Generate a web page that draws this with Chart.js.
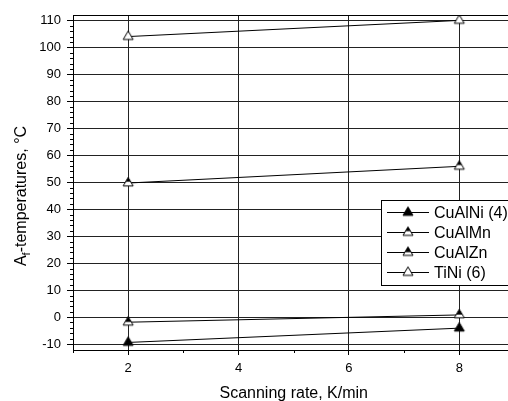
<!DOCTYPE html>
<html>
<head>
<meta charset="UTF-8">
<title>Af temperatures</title>
<script src="https://cdn.jsdelivr.net/npm/chart.js"></script>
<style>
    body { margin: 0; overflow: hidden; background: #fff; }
    canvas { display: block; }
</style>
</head>
<body>
<canvas id="grafico" width="530" height="401"></canvas>

<script>
    // dados
    const rates = [2, 8];
    const cuAlNi = [-9.4, -4.1];
    const cuAlMn = [49.7, 55.9];
    const cuAlZn = [-1.9, 0.8];
    const tiNi = [104.0, 110.0];

    const seriesNames = ['CuAlNi (4)', 'CuAlMn', 'CuAlZn', 'TiNi (6)'];
    const xTicks = [2, 4, 6, 8];
    const yTicks = [-10, 0, 10, 20, 30, 40, 50, 60, 70, 80, 90, 100, 110];
    const xMinor = [1, 3, 5, 7];
    const yMinor = [-8, -6, -4, -2, 2, 4, 6, 8, 12, 14, 16, 18, 22, 24, 26, 28, 32, 34, 36, 38,
        42, 44, 46, 48, 52, 54, 56, 58, 62, 64, 66, 68, 72, 74, 76, 78, 82, 84, 86, 88,
        92, 94, 96, 98, 102, 104, 106, 108];

    const fonte = 'Arial, "Liberation Sans", sans-serif';

    // triangulo desenhado num canvas pequeno (centroide no centro)
    function triangulo(parteCheia) {
        let c = document.createElement('canvas');
        c.width = 14; c.height = 14;
        let ctx = c.getContext('2d');
        let topo = 1.4, base = 9.9;
        ctx.beginPath();
        ctx.moveTo(7, topo);
        ctx.lineTo(12, base);
        ctx.lineTo(2, base);
        ctx.closePath();
        ctx.fillStyle = '#fff';
        ctx.fill();
        if (parteCheia > 0) {
            ctx.save();
            ctx.clip();
            ctx.fillStyle = '#000';
            ctx.fillRect(0, 0, 14, topo + parteCheia * (base - topo));
            ctx.restore();
        }
        ctx.lineWidth = 1;
        ctx.strokeStyle = '#000';
        ctx.stroke();
        return c;
    }

    const marcadores = [triangulo(1), triangulo(0.5), triangulo(0.62), triangulo(0)];
    const valores = [cuAlNi, cuAlMn, cuAlZn, tiNi];

    let datasets = [];
    for (let i = 0; i < valores.length; i++) {
        datasets.push({
            label: seriesNames[i],
            data: rates.map((r, k) => ({ x: r, y: valores[i][k] })),
            borderColor: '#000',
            borderWidth: 1,
            pointStyle: marcadores[i],
            pointRadius: 6,
            tension: 0
        });
    }

    // eixos extras, ticks menores, titulos e legenda
    const extras = {
        id: 'extras',
        afterDatasetsDraw(chart) {
            const ctx = chart.ctx;
            const a = chart.chartArea;
            const x = chart.scales.x, y = chart.scales.y;
            ctx.save();
            ctx.strokeStyle = '#000';
            ctx.lineWidth = 1;

            // borda de cima
            ctx.beginPath();
            ctx.moveTo(a.left, Math.round(a.top) + 0.5);
            ctx.lineTo(a.right, Math.round(a.top) + 0.5);
            ctx.stroke();

            // ticks menores
            ctx.beginPath();
            xMinor.forEach(v => {
                let px = Math.round(x.getPixelForValue(v)) + 0.5;
                ctx.moveTo(px, a.bottom);
                ctx.lineTo(px, a.bottom + 3);
            });
            yMinor.forEach(v => {
                let py = Math.round(y.getPixelForValue(v)) + 0.5;
                ctx.moveTo(a.left - 3, py);
                ctx.lineTo(a.left, py);
            });
            ctx.stroke();

            // titulo eixo x
            ctx.fillStyle = '#000';
            ctx.font = '16px ' + fonte;
            ctx.textAlign = 'center';
            ctx.textBaseline = 'alphabetic';
            ctx.fillText('Scanning rate, K/min', (a.left + a.right) / 2, 398);

            // titulo eixo y com subscrito
            ctx.save();
            ctx.translate(26, 196);
            ctx.rotate(-Math.PI / 2);
            ctx.textAlign = 'left';
            ctx.font = '16px ' + fonte;
            let wA = ctx.measureText('A').width;
            let resto = '-temperatures, °C';
            let wR = ctx.measureText(resto).width;
            ctx.font = '11px ' + fonte;
            let wF = ctx.measureText('f').width;
            let x0 = -(wA + wF + wR) / 2;
            ctx.font = '16px ' + fonte;
            ctx.fillText('A', x0, 0);
            ctx.font = '11px ' + fonte;
            ctx.fillText('f', x0 + wA, 4);
            ctx.font = '16px ' + fonte;
            ctx.fillText(resto, x0 + wA + wF, 0);
            ctx.restore();

            // legenda
            let lx = 381.5, ly = 200.5;
            ctx.fillStyle = '#fff';
            ctx.fillRect(lx, ly, 200, 85);
            ctx.strokeRect(lx, ly, 200, 85);
            ctx.font = '16px ' + fonte;
            ctx.textAlign = 'left';
            ctx.textBaseline = 'middle';
            chart.data.datasets.forEach((ds, i) => {
                let yy = 212.5 + i * 20;
                ctx.beginPath();
                ctx.moveTo(387, yy);
                ctx.lineTo(429, yy);
                ctx.stroke();
                ctx.drawImage(ds.pointStyle, 408 - 7, yy - 7);
                ctx.fillStyle = '#000';
                ctx.fillText(ds.label, 434, yy + 1);
            });
            ctx.restore();
        }
    };

    new Chart(document.getElementById('grafico'), {
        type: 'line',
        data: { datasets: datasets },
        options: {
            responsive: false,
            animation: false,
            devicePixelRatio: 1,
            layout: { padding: { top: 15, right: 15.5, left: 0, bottom: 0 } },
            plugins: {
                legend: { display: false },
                tooltip: { enabled: false }
            },
            scales: {
                x: {
                    type: 'linear',
                    min: 1,
                    max: 9,
                    afterBuildTicks: s => { s.ticks = xTicks.map(v => ({ value: v })); },
                    afterFit: s => { s.height = 51; },
                    grid: { color: '#222', lineWidth: 1, tickLength: 5, tickColor: '#000' },
                    border: { color: '#000', width: 1 },
                    ticks: {
                        color: '#000',
                        padding: 6,
                        maxRotation: 0,
                        font: { family: fonte, size: 13 }
                    }
                },
                y: {
                    type: 'linear',
                    min: -12.2,
                    max: 112,
                    afterBuildTicks: s => { s.ticks = yTicks.map(v => ({ value: v })); },
                    afterFit: s => { s.width = 73; },
                    grid: { color: '#222', lineWidth: 1, tickLength: 6, tickColor: '#000' },
                    border: { color: '#000', width: 1 },
                    ticks: {
                        color: '#000',
                        padding: 6,
                        font: { family: fonte, size: 13 }
                    }
                }
            }
        },
        plugins: [extras]
    });
</script>
</body>
</html>
